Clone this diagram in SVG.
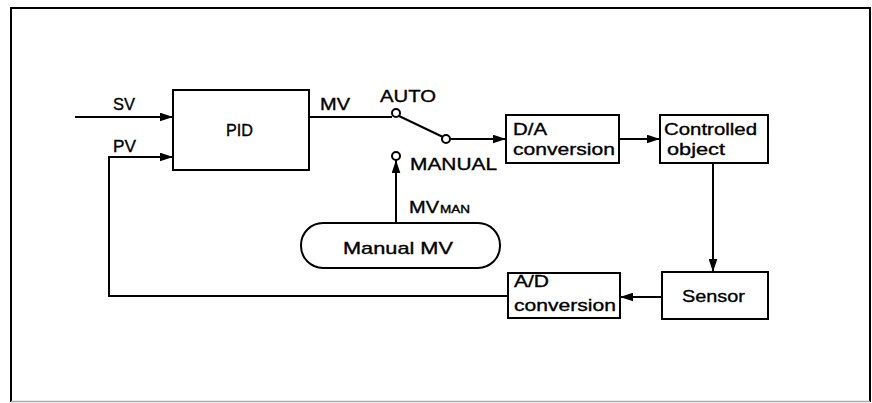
<svg xmlns="http://www.w3.org/2000/svg" width="872" height="403" viewBox="0 0 872 403">
<defs>
<marker id="ah" viewBox="0 0 12 8" refX="12" refY="4" markerWidth="13" markerHeight="9" markerUnits="userSpaceOnUse" orient="auto">
<path d="M0,0 L12,4 L0,8 Z" fill="#000"/>
</marker>
</defs>
<style>
.bx{fill:#fff;stroke:#000;stroke-width:2}
.ln{fill:none;stroke:#000;stroke-width:2}
.ar{fill:none;stroke:#000;stroke-width:2;marker-end:url(#ah)}
.ct{fill:#fff;stroke:#000;stroke-width:2}
text{font-family:"Liberation Sans",Arial,sans-serif;font-size:17px;fill:#000;stroke:#000;stroke-width:0.35}
.sm{font-size:10px}
</style>
<rect width="872" height="403" fill="#fff"/>
<g id="frame">
<path d="M11,402 L11,8 L870,8 L870,402" class="ln"/>
<line x1="11" y1="401.5" x2="870" y2="401.5" stroke="#aaa" stroke-width="1.5"/>
</g>
<g id="connectors">
<line x1="75" y1="117" x2="173" y2="117" class="ar"/>
<polyline points="508,296 109,296 109,157 173,157" class="ar"/>
<line x1="309" y1="117" x2="392" y2="117" class="ln"/>
<line x1="399" y1="116" x2="443" y2="137" class="ln"/>
<line x1="450" y1="139" x2="506" y2="139" class="ar"/>
<line x1="619" y1="139" x2="660" y2="139" class="ar"/>
<line x1="713" y1="163" x2="713" y2="272" class="ar"/>
<line x1="662" y1="297" x2="620" y2="297" class="ar"/>
<line x1="396" y1="223" x2="396" y2="160" class="ar"/>
</g>
<g id="switch">
<circle cx="396" cy="113" r="4" class="ct"/>
<circle cx="446" cy="139" r="4" class="ct"/>
<circle cx="396" cy="156" r="4" class="ct"/>
<text x="380" y="102" textLength="56" lengthAdjust="spacingAndGlyphs">AUTO</text>
<text x="410" y="170" textLength="87" lengthAdjust="spacingAndGlyphs">MANUAL</text>
</g>
<g id="labels">
<text x="113" y="110" textLength="22" lengthAdjust="spacingAndGlyphs">SV</text>
<text x="113" y="152" textLength="23" lengthAdjust="spacingAndGlyphs">PV</text>
<text x="320" y="110" textLength="30" lengthAdjust="spacingAndGlyphs">MV</text>
<text x="409" y="213" font-size="15" textLength="30" lengthAdjust="spacingAndGlyphs">MV</text>
<text x="440" y="213" class="sm" textLength="30" lengthAdjust="spacingAndGlyphs">MAN</text>
</g>
<g id="pid">
<rect x="173" y="90" width="136" height="80" class="bx"/>
<text x="226" y="136" textLength="27" lengthAdjust="spacingAndGlyphs">PID</text>
</g>
<g id="da">
<rect x="506" y="115" width="113" height="48" class="bx"/>
<text x="513" y="135" textLength="34" lengthAdjust="spacingAndGlyphs">D/A</text>
<text x="513" y="155" textLength="102" lengthAdjust="spacingAndGlyphs">conversion</text>
</g>
<g id="controlled">
<rect x="660" y="115" width="108" height="48" class="bx"/>
<text x="664" y="135" textLength="93" lengthAdjust="spacingAndGlyphs">Controlled</text>
<text x="667" y="155" textLength="58" lengthAdjust="spacingAndGlyphs">object</text>
</g>
<g id="sensor">
<rect x="662" y="272" width="106" height="47" class="bx"/>
<text x="682" y="302" textLength="63" lengthAdjust="spacingAndGlyphs">Sensor</text>
</g>
<g id="ad">
<rect x="508" y="273" width="112" height="45" class="bx"/>
<text x="514" y="287" textLength="35" lengthAdjust="spacingAndGlyphs">A/D</text>
<text x="514" y="311" textLength="102" lengthAdjust="spacingAndGlyphs">conversion</text>
</g>
<g id="manual">
<rect x="301" y="223" width="199" height="45" rx="22" ry="22" class="bx"/>
<text x="343" y="254" textLength="110" lengthAdjust="spacingAndGlyphs">Manual MV</text>
</g>
</svg>
